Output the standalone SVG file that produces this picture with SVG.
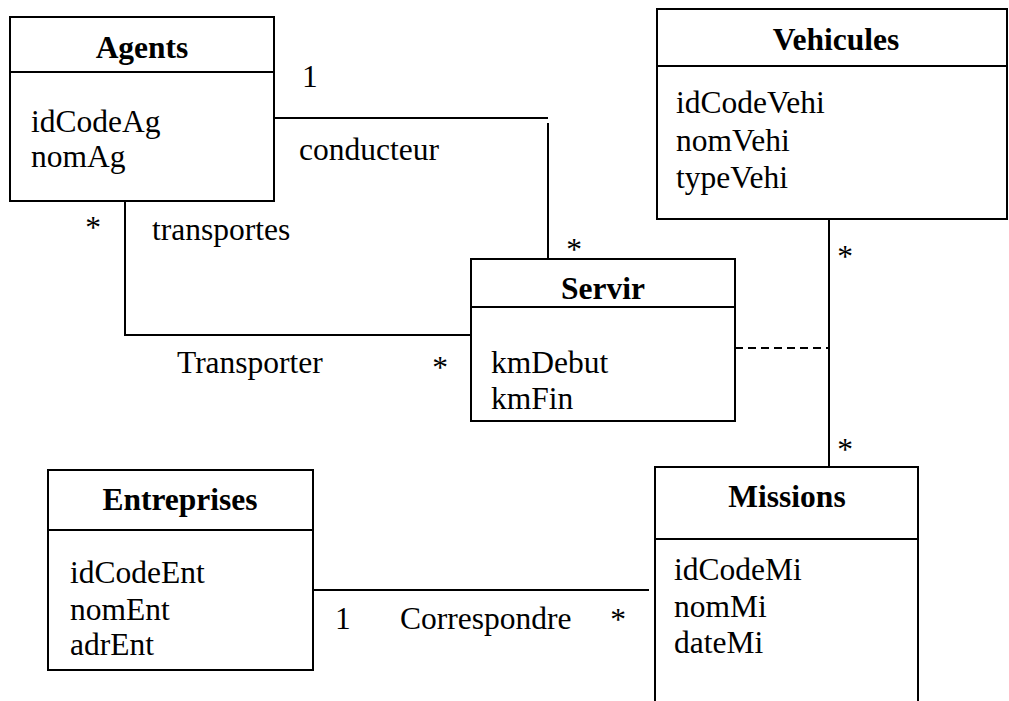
<svg xmlns="http://www.w3.org/2000/svg" width="1009" height="701" viewBox="0 0 1009 701">
<style>
.box{fill:#fff;stroke:#000;stroke-width:2}
.ln{stroke:#000;stroke-width:2;fill:none}
.dash{stroke:#000;stroke-width:2;fill:none;stroke-dasharray:8 5}
text{font-family:"Liberation Serif","Times New Roman",serif;font-size:31.5px;fill:#000}
.t{font-weight:bold;text-anchor:middle}
.m{text-anchor:middle}
</style>
<rect width="1009" height="701" fill="#fff"/>
<g id="connectors">
<line class="ln" x1="274" y1="118" x2="548" y2="118"/>
<line class="ln" x1="548" y1="123" x2="548" y2="259"/>
<polyline class="ln" points="125,201 125,335 471,335"/>
<line class="ln" x1="829" y1="219" x2="829" y2="467"/>
<line class="dash" x1="735" y1="348" x2="829" y2="348"/>
<line class="ln" x1="313" y1="590" x2="649" y2="590"/>
<text x="302" y="87">1</text>
<text x="299" y="160">conducteur</text>
<text class="m" x="574" y="260">*</text>
<text class="m" x="93" y="238">*</text>
<text x="152" y="240">transportes</text>
<text x="177" y="373">Transporter</text>
<text class="m" x="440" y="378">*</text>
<text class="m" x="845" y="267">*</text>
<text class="m" x="845" y="460">*</text>
<text x="335" y="629">1</text>
<text x="400" y="629">Correspondre</text>
<text class="m" x="618" y="630">*</text>
</g>
<g id="Agents">
<rect class="box" x="10" y="17" width="264" height="184"/>
<line class="ln" x1="10" y1="72" x2="274" y2="72"/>
<text class="t" x="142" y="58">Agents</text>
<text x="31" y="132">idCodeAg</text>
<text x="31" y="167">nomAg</text>
</g>
<g id="Vehicules">
<rect class="box" x="657" y="9" width="350" height="210"/>
<line class="ln" x1="657" y1="66" x2="1007" y2="66"/>
<text class="t" x="836" y="50">Vehicules</text>
<text x="676" y="113">idCodeVehi</text>
<text x="676" y="151">nomVehi</text>
<text x="676" y="188">typeVehi</text>
</g>
<g id="Servir">
<rect class="box" x="471" y="259" width="264" height="162"/>
<line class="ln" x1="471" y1="307" x2="735" y2="307"/>
<text class="t" x="603" y="299">Servir</text>
<text x="491" y="373">kmDebut</text>
<text x="491" y="409">kmFin</text>
</g>
<g id="Missions">
<polyline class="ln" points="655,702 655,467 918,467 918,702"/>
<line class="ln" x1="655" y1="539" x2="918" y2="539"/>
<text class="t" x="787" y="507">Missions</text>
<text x="674" y="580">idCodeMi</text>
<text x="674" y="617">nomMi</text>
<text x="674" y="653">dateMi</text>
</g>
<g id="Entreprises">
<rect class="box" x="48" y="470" width="265" height="200"/>
<line class="ln" x1="48" y1="530" x2="313" y2="530"/>
<text class="t" x="180" y="510">Entreprises</text>
<text x="70" y="583">idCodeEnt</text>
<text x="70" y="620">nomEnt</text>
<text x="70" y="655">adrEnt</text>
</g>
</svg>
